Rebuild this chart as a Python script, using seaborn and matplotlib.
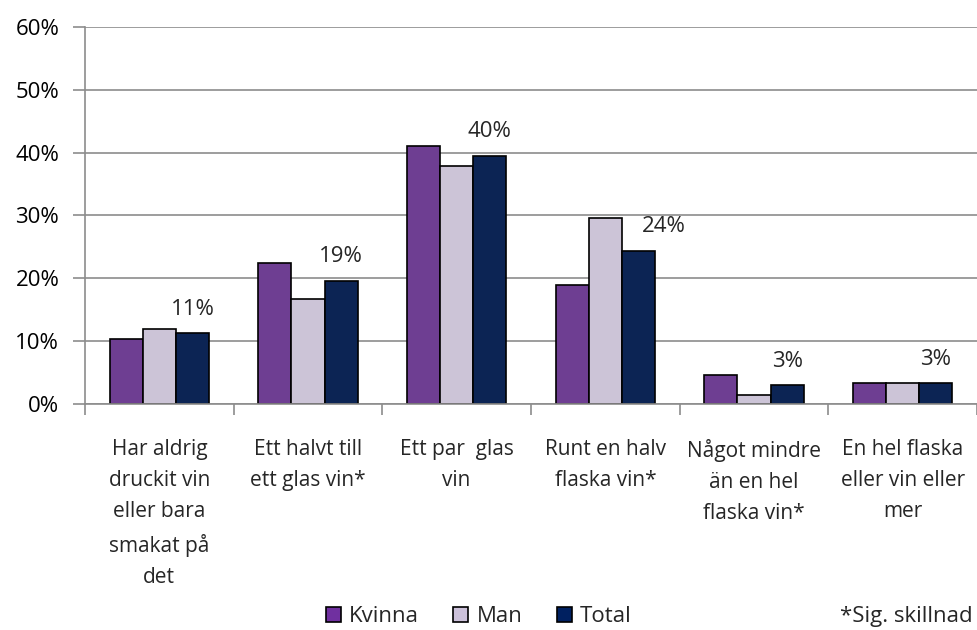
import numpy as np
import pandas as pd
import matplotlib
matplotlib.use("Agg")
import matplotlib.pyplot as plt
import seaborn as sns
from matplotlib.ticker import FixedLocator, PercentFormatter

categories = [
    "Har aldrig\ndruckit vin\neller bara\nsmakat på\ndet",
    "Ett halvt till\nett glas vin*",
    "Ett par  glas\nvin",
    "Runt en halv\nflaska vin*",
    "Något mindre\nän en hel\nflaska vin*",
    "En hel flaska\neller vin eller\nmer",
]
kvinna = [10.3, 22.4, 41.1, 19.0, 4.6, 3.3]
man = [11.9, 16.7, 37.9, 29.6, 1.4, 3.3]
total = [11.3, 19.6, 39.5, 24.4, 3.0, 3.3]
total_labels = ["11%", "19%", "40%", "24%", "3%", "3%"]
series = ["Kvinna", "Man", "Total"]
colors = ["#7030A0", "#CCC1DA", "#002060"]

df = pd.DataFrame({
    "kategori": categories * 3,
    "grupp": np.repeat(series, len(categories)),
    "andel": kvinna + man + total,
})

sns.set_theme(style="white")
plt.rcParams["font.family"] = ["Open Sans", "DejaVu Sans"]

fig = plt.figure(figsize=(9.77, 6.3), dpi=100)
ax = fig.add_axes([0.087, 0.359, 0.913, 0.598])

sns.barplot(data=df, x="kategori", y="andel", hue="grupp", palette=colors,
            width=0.67, edgecolor="black", linewidth=1.2, ax=ax, legend=True)

ax.set_ylim(0, 60)
ax.set_xlim(-0.5, len(categories) - 0.5)
ax.set_yticks(range(0, 61, 10))
ax.yaxis.set_major_formatter(PercentFormatter(decimals=0))
ax.grid(axis="y", color="#8c8c8c", linewidth=1.2)
ax.set_axisbelow(True)
for s in ["top", "right"]:
    ax.spines[s].set_visible(False)
for s in ["left", "bottom"]:
    ax.spines[s].set_color("#8c8c8c")
    ax.spines[s].set_linewidth(1.2)
ax.set_xlabel("")
ax.set_ylabel("")
ax.tick_params(axis="y", left=True, length=8.5, width=1.2, color="#8c8c8c",
               labelsize=16, pad=10, labelcolor="black")
ax.tick_params(axis="x", bottom=False, labelsize=15, pad=19)
for lab in ax.get_xticklabels():
    lab.set_linespacing(1.64)
    lab.set_verticalalignment("top")
ax.xaxis.set_minor_locator(FixedLocator(np.arange(-0.5, len(categories), 1.0)))
ax.tick_params(axis="x", which="minor", bottom=True, length=8, color="#8c8c8c", width=1.2)

# labels above the Total bars (the 24% one is nudged right, clear of the Man bar)
total_bars = ax.containers[2]
nudge = [0, 0, 0, 0.17, 0, 0]
for bar, txt, dx in zip(total_bars, total_labels, nudge):
    ax.text(bar.get_x() + bar.get_width() / 2 + dx, bar.get_height() + 3.8, txt,
            ha="center", va="center", fontsize=16)

ax.legend_.remove()
handles = [plt.Rectangle((0, 0), 1, 1, facecolor=c, edgecolor="black", linewidth=1.2) for c in colors]
fig.legend(handles, series, loc="center", bbox_to_anchor=(0.49, 0.021), ncol=3,
           frameon=False, fontsize=16, handlelength=0.68, handleheight=0.68,
           handletextpad=0.36, columnspacing=1.55, borderpad=0.1)
fig.text(0.996, 0.021, "*Sig. skillnad", ha="right", va="center", fontsize=16)

fig.savefig("out.png", dpi=100)
